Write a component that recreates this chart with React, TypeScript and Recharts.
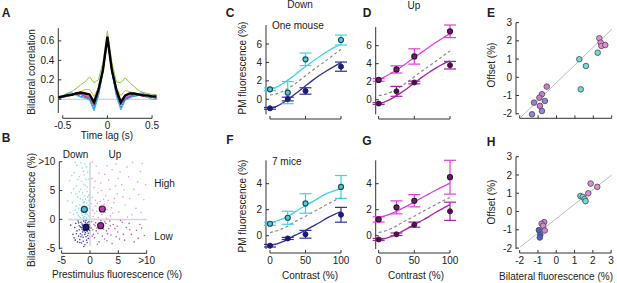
import React from 'react';
import { ComposedChart, Line, Scatter, XAxis, YAxis, ReferenceLine, ErrorBar } from 'recharts';

const W = 617;
const H = 283;
const FONT = '"Liberation Sans", Arial, sans-serif';
const INK = '#222';
const AXIS = '#333';

// ---- A: bilateral correlation vs time lag
const lags = [-0.55, -0.5, -0.45, -0.4, -0.35, -0.3, -0.25, -0.2, -0.15, -0.1, -0.05, 0, 0.05, 0.1, 0.15, 0.2, 0.25, 0.3, 0.35, 0.4, 0.45, 0.5, 0.55];
const corrGreen = [0.03, 0.04, 0.06, 0.08, 0.11, 0.15, 0.18, 0.23, 0.17, 0.2, 0.38, 0.7, 0.38, 0.18, 0.17, 0.22, 0.17, 0.13, 0.09, 0.07, 0.06, 0.05, 0.05];
const corrYellow = [0.02, 0.03, 0.04, 0.05, 0.06, 0.08, 0.1, 0.1, 0.03, 0.12, 0.32, 0.66, 0.32, 0.12, 0.04, 0.09, 0.08, 0.06, 0.05, 0.04, 0.04, 0.04, 0.04];
const corrRed = [0.01, 0.02, 0.03, 0.05, 0.06, 0.05, 0.03, 0.02, -0.07, 0.05, 0.28, 0.62, 0.28, 0.05, -0.06, 0.0, 0.03, 0.04, 0.04, 0.03, 0.02, 0.02, 0.01];
const corrPink = [0.02, 0.03, 0.04, 0.05, 0.07, 0.06, 0.04, 0.03, -0.05, 0.08, 0.3, 0.6, 0.28, 0.07, -0.04, 0.02, 0.04, 0.05, 0.05, 0.04, 0.03, 0.02, 0.02];
const corrBlue = [0.0, 0.02, 0.05, 0.06, 0.05, 0.03, 0.02, 0.0, -0.1, 0.05, 0.3, 0.65, 0.3, 0.05, -0.09, 0.0, 0.02, 0.03, 0.04, 0.06, 0.03, 0.02, 0.01];
const corrSky = [0.01, 0.03, 0.06, 0.07, 0.04, 0.02, 0.01, -0.01, -0.12, 0.03, 0.28, 0.64, 0.28, 0.03, -0.11, -0.01, 0.01, 0.04, 0.06, 0.07, 0.02, 0.0, 0.0];
const corrPurple = [0.02, 0.02, 0.03, 0.04, 0.05, 0.05, 0.03, 0.01, -0.06, 0.06, 0.29, 0.63, 0.29, 0.06, -0.05, 0.01, 0.03, 0.04, 0.04, 0.05, 0.03, 0.02, 0.02];
const corrMean = [0.02, 0.03, 0.04, 0.045, 0.06, 0.07, 0.06, 0.05, -0.03, 0.1, 0.3, 0.64, 0.3, 0.1, -0.03, 0.04, 0.06, 0.06, 0.05, 0.04, 0.04, 0.03, 0.03];

// ---- B: prestimulus vs bilateral fluorescence (x, y pairs)
const dotsDownHigh = [[-1.2, 0.4], [-0.8, 0.9], [-1.5, 1.1], [-0.4, 1.5], [-2.1, 0.7], [-1.0, 2.2], [-0.6, 2.8], [-1.8, 2.5], [-0.3, 0.6], [-2.6, 1.6], [-1.3, 3.4], [-0.9, 4.1], [-2.2, 3.9], [-0.5, 4.8], [-1.6, 5.2], [-3.1, 2.9], [-0.2, 3.3], [-1.1, 6.1], [-2.4, 5.8], [-0.7, 6.9], [-1.9, 7.4], [-0.4, 8.2], [-1.4, 8.9], [-2.8, 8.1], [-0.9, 9.6], [-3.3, 4.6], [-0.1, 1.9], [-1.7, 0.3], [-2.9, 0.9], [-0.6, 0.2], [-1.4, 1.8], [-0.9, 1.4], [-2.0, 1.9], [-1.2, 2.9], [-0.3, 2.4], [-1.7, 3.6], [-0.8, 3.5], [-3.6, 6.7], [-2.3, 9.4], [-1.0, 7.7], [-0.5, 5.6], [-2.5, 4.4], [-1.9, 0.5], [-0.7, 1.1], [-1.3, 4.6], [-3.9, 3.2], [-0.2, 7.0], [-1.6, 9.8],
  [-1.1, 0.1], [-0.5, 0.9], [-1.6, 1.5], [-2.4, 2.3], [-0.2, 4.2], [-1.9, 4.8], [-2.9, 5.3], [-0.8, 5.9], [-1.5, 6.6], [-2.1, 6.9], [-3.2, 7.6], [-1.2, 8.3], [-0.6, 9.1], [-2.6, 9.9], [-3.5, 1.2], [-1.0, 3.0], [-0.4, 3.9], [-1.4, 0.7], [-2.3, 1.2], [-0.9, 0.5]];
const dotsDownLow = [[-1.0, -1.3], [-0.7, -0.8], [-1.4, -1.7], [-0.5, -2.1], [-1.9, -1.1], [-0.9, -2.6], [-1.6, -0.5], [-0.3, -1.2], [-2.3, -2.0], [-1.2, -3.1], [-0.6, -3.6], [-2.0, -2.9], [-1.5, -4.1], [-2.7, -1.4], [-0.2, -0.4], [-1.1, -0.3], [-0.8, -1.7], [-1.3, -2.2], [-0.4, -2.8], [-1.8, -3.5], [-2.5, -0.7], [-3.0, -2.6], [-0.9, -4.4], [-2.2, -3.9], [-0.1, -1.9], [-1.7, -2.5], [-1.0, -0.9], [-0.6, -1.4], [-1.3, -1.0], [-2.1, -0.3], [-0.4, -0.6], [-1.5, -1.4], [-0.8, -2.3], [-1.9, -1.8], [-2.8, -3.2], [-1.2, -3.8], [-0.3, -3.3], [-3.4, -1.0], [-1.6, -3.0], [-0.7, -0.2],
  [-0.9, -1.6], [-1.1, -1.1], [-0.6, -1.0], [-1.4, -0.8], [-0.5, -1.7], [-1.2, -1.9], [-0.8, -0.5], [-1.7, -1.3], [-0.3, -2.4], [-2.4, -2.5], [-1.0, -2.0], [-0.7, -3.0], [-1.4, -2.7], [-2.0, -0.6], [-0.2, -0.9], [-1.8, -4.0], [-2.6, -3.6], [-0.5, -4.0], [-1.1, -4.7], [0.2, -1.5]];
const dotsUpHigh = [[0.6, 0.5], [1.2, 1.4], [2.1, 0.8], [0.9, 2.3], [1.8, 3.1], [3.0, 1.7], [2.5, 2.6], [0.4, 3.8], [3.6, 0.6], [1.4, 4.6], [4.2, 2.9], [2.8, 4.1], [0.7, 5.5], [5.1, 1.3], [3.5, 5.2], [1.9, 6.3], [4.8, 4.4], [6.2, 2.5], [0.3, 7.1], [2.6, 7.8], [5.6, 6.0], [7.0, 3.6], [3.9, 8.6], [6.8, 7.4], [8.1, 1.9], [1.1, 9.2], [4.6, 9.6], [7.7, 5.2], [8.9, 8.3], [9.5, 3.4], [2.2, 1.9], [1.5, 0.3], [3.2, 3.3], [0.5, 1.6], [2.9, 0.2], [4.0, 1.1], [1.3, 2.8], [5.8, 3.9], [9.2, 9.7], [6.5, 9.1], [8.4, 6.5], [3.3, 6.8], [1.6, 8.0], [5.3, 8.2], [7.4, 0.8],
  [0.8, 1.0], [1.7, 2.2], [2.4, 3.5], [0.2, 2.7], [3.8, 2.0], [4.5, 5.8], [6.0, 5.1], [2.0, 5.0], [0.9, 6.6], [7.5, 9.9], [9.8, 6.0], [8.6, 4.3], [5.0, 7.1], [3.0, 9.3], [0.4, 9.9], [6.6, 0.4], [9.0, 1.2], [4.3, 3.6], [2.7, 1.2], [1.0, 3.3]];
const dotsUpLow = [[1.0, -0.6], [1.8, -1.3], [2.6, -0.4], [0.5, -1.8], [3.3, -1.6], [1.4, -2.4], [2.2, -2.9], [4.1, -0.9], [0.8, -3.2], [3.0, -3.7], [4.9, -2.2], [5.7, -0.5], [2.0, -0.9], [1.2, -1.5], [3.7, -2.7], [6.4, -1.4], [0.3, -0.4], [2.9, -2.0], [5.2, -3.4], [7.3, -2.6], [1.6, -3.9], [4.4, -1.6], [6.9, -0.7], [8.2, -1.9], [3.5, -0.3], [0.6, -2.6], [2.4, -1.7], [1.9, -0.2], [4.6, -3.0], [8.8, -0.9], [9.6, -2.8], [7.8, -3.9], [5.9, -2.6], [3.9, -4.2], [0.9, -1.1],
  [1.5, -0.8], [2.3, -1.2], [0.7, -0.9], [1.1, -2.0], [2.8, -0.7], [3.1, -2.5], [0.4, -2.9], [4.8, -1.2], [6.1, -3.6], [7.0, -1.8], [9.1, -1.5], [5.4, -0.2], [2.6, -3.4], [1.3, -4.3], [3.6, -1.1], [8.5, -3.3]];
const meanDownHigh = [[-1.0, 1.75]];
const meanDownLow = [[-0.7, -1.37]];
const meanUpHigh = [[2.17, 1.8]];
const meanUpLow = [[1.88, -1.09]];

// ---- C/D/F/G: PM fluorescence vs contrast
const contrasts = [0, 25, 50, 100];
const fitContrasts = [0, 10, 20, 30, 40, 50, 60, 70, 80, 90, 100];

const oneDownHigh = [1.08, 0.72, 4.34, 6.43];
const oneDownHighErr = [0.15, 1.2, 0.68, 0.54];
const oneDownLow = [-0.98, 0.03, 0.9, 3.54];
const oneDownLowErr = [0.1, 0.2, 0.35, 0.5];
const oneUpHigh = [2.2, 3.36, 4.8, 7.59];
const oneUpHighErr = [0.15, 0.4, 0.85, 0.7];
const oneUpLow = [-0.43, 0.93, 1.91, 3.83];
const oneUpLowErr = [0.1, 0.55, 0.15, 0.42];

const oneDownHighFit = [1.15, 1.35, 1.8, 2.35, 2.95, 3.55, 4.1, 4.65, 5.15, 5.6, 5.97];
const oneDownLowFit = [-0.98, -0.75, -0.3, 0.25, 0.85, 1.45, 2.05, 2.6, 3.1, 3.55, 3.97];
const oneMidFit = [0.47, 0.62, 0.95, 1.4, 1.95, 2.55, 3.15, 3.7, 4.25, 4.85, 5.42];
const oneUpHighFit = [2.2, 2.6, 3.05, 3.55, 4.1, 4.7, 5.25, 5.8, 6.35, 6.85, 7.33];
const oneUpLowFit = [-0.45, -0.2, 0.2, 0.7, 1.25, 1.85, 2.45, 3.0, 3.5, 3.95, 4.3];

const allDownHigh = [0.92, 1.38, 2.48, 3.75];
const allDownHighErr = [0.12, 0.5, 0.75, 0.88];
const allDownLow = [-0.77, -0.21, 0.11, 1.61];
const allDownLowErr = [0.1, 0.08, 0.3, 0.57];
const allUpHigh = [1.25, 2.18, 2.69, 4.5];
const allUpHighErr = [0.2, 0.5, 0.47, 1.3];
const allUpLow = [-0.29, 0.11, 0.85, 1.88];
const allUpLowErr = [0.08, 0.1, 0.2, 0.7];

const allDownHighFit = [0.97, 1.15, 1.35, 1.65, 2.0, 2.31, 2.62, 2.95, 3.25, 3.45, 3.62];
const allDownLowFit = [-0.75, -0.62, -0.42, -0.12, 0.15, 0.42, 0.72, 1.02, 1.35, 1.62, 1.86];
const allMidFit = [0.24, 0.38, 0.6, 0.92, 1.22, 1.5, 1.8, 2.1, 2.4, 2.68, 2.94];
const allUpHighFit = [1.42, 1.55, 1.75, 2.02, 2.3, 2.6, 2.9, 3.2, 3.5, 3.78, 4.05];
const allUpLowFit = [-0.3, -0.2, -0.02, 0.25, 0.55, 0.85, 1.15, 1.45, 1.8, 2.1, 2.39];

// ---- E/H: offset vs bilateral fluorescence (x, y pairs)
const eUpHigh = [[2.33, 2.14], [2.4, 1.9], [2.44, 1.72], [2.65, 1.77]];
const eDownHigh = [[1.24, 0.99], [1.6, 0.62], [1.32, -0.66], [2.24, 1.35]];
const eUpLow = [[-0.53, -0.51], [-0.79, -0.93], [-0.93, -1.12], [-0.9, -1.57]];
const eDownLow = [[-0.63, -1.3], [-1.22, -1.39], [-0.79, -1.85], [-1.33, -2.03]];
const eDiag = [[-1.95, -2.2], [3.0, 2.63]];

const hUpHigh = [[1.88, 1.53], [2.24, 1.35], [1.75, 1.0]];
const hDownHigh = [[1.32, 0.85], [1.45, 0.8], [1.55, 0.68], [1.6, 0.57]];
const hUpLow = [[-0.66, -0.58], [-0.8, -0.67], [-0.72, -0.78], [-0.63, -1.04]];
const hDownLow = [[-0.95, -1.02], [-0.87, -1.27], [-0.9, -1.42]];
const hDiag = [[-1.98, -1.95], [3.03, 2.0]];

const CYAN = '#3fd0ee';
const NAVY = '#2e2e9e';
const MAGENTA = '#e23ce0';
const PURPLE = '#a424a8';

const series = (xs: number[], ys: number[]) => xs.map((x, i) => ({ x, y: ys[i] }));
const withErr = (xs: number[], ys: number[], es: number[]) => xs.map((x, i) => ({ x, y: ys[i], e: es[i] }));
const pairs = (ps: number[][]) => ps.map(([x, y]) => ({ x, y }));

const dot = (r: number, fill: string, stroke: string, sw = 1) => (p: any) =>
  <circle cx={p.cx} cy={p.cy} r={r} fill={fill} stroke={stroke} strokeWidth={sw} />;

type Box = { l: number; t: number; r: number; b: number };

function Panel(props: {
  box: Box; xDomain: [number, number]; yDomain: [number, number];
  xTicks: number[]; yTicks: number[]; xSpan: [number, number]; ySpan: [number, number];
  fmtX?: (v: number) => string; fmtY?: (v: number) => string; children: React.ReactNode;
}) {
  const { box, xDomain, yDomain, xTicks, yTicks, xSpan, ySpan } = props;
  const tickStyle = { fill: INK, fontSize: 10, fontFamily: FONT };
  // axes are 1px thick boxes so the plot area lands exactly on box
  return (
    <div style={{ position: 'absolute', left: 0, top: 0 }}>
      <ComposedChart width={W} height={H} margin={{ left: box.l - 1, top: box.t, right: W - box.r, bottom: H - box.b - 1 }}>
        <XAxis type="number" dataKey="x" domain={xDomain} ticks={xTicks} interval={0} height={1}
          axisLine={false} tickLine={{ stroke: AXIS }} tickSize={-3} tickMargin={7}
          tick={tickStyle} tickFormatter={props.fmtX ?? ((v: number) => String(v))} />
        <YAxis type="number" dataKey="y" domain={yDomain} ticks={yTicks} interval={0} width={1}
          axisLine={false} tickLine={{ stroke: AXIS }} tickSize={-3} tickMargin={7}
          tick={tickStyle} tickFormatter={props.fmtY ?? ((v: number) => String(v))} />
        <ReferenceLine ifOverflow="visible" stroke={AXIS} segment={[{ x: xSpan[0], y: yDomain[0] }, { x: xSpan[1], y: yDomain[0] }]} />
        <ReferenceLine ifOverflow="visible" stroke={AXIS} segment={[{ x: xDomain[0], y: ySpan[0] }, { x: xDomain[0], y: ySpan[1] }]} />
        {props.children}
      </ComposedChart>
    </div>
  );
}

function Txt({ x, y, children, size = 10, bold = false, rotate = false, start = false }: any) {
  return (
    <div style={{
      position: 'absolute', left: x, top: y, fontFamily: FONT, fontSize: size, lineHeight: 1,
      fontWeight: bold ? 700 : 400, color: INK, whiteSpace: 'nowrap',
      transform: `translate(${start ? '0' : '-50%'}, -50%)${rotate ? ' rotate(-90deg)' : ''}`,
    }}>{children}</div>
  );
}

const hide = () => '';

function contrastPanel(box: Box, yDomain: [number, number], ySpan: [number, number], yTicks: number[], x0: number, labels: boolean,
  high: any[], low: any[], highFit: any[], lowFit: any[], midFit: any[], hiColor: string, loColor: string,
  hiFill: string, hiStroke: string, loFill: string) {
  return (
    <Panel box={box} xDomain={[x0, 100]} yDomain={yDomain} xTicks={[0, 50, 100]} yTicks={yTicks}
      xSpan={[0, 100]} ySpan={ySpan} fmtX={labels ? undefined : hide}>
      <Line data={midFit} dataKey="y" type="monotone" dot={false} stroke="#8a8a8a" strokeWidth={1.2} strokeDasharray="3 2.5" isAnimationActive={false} />
      <Line data={highFit} dataKey="y" type="monotone" dot={false} stroke={hiColor} strokeWidth={1.3} isAnimationActive={false} />
      <Line data={lowFit} dataKey="y" type="monotone" dot={false} stroke={loColor} strokeWidth={1.3} isAnimationActive={false} />
      <Scatter data={high} shape={dot(2.5, hiFill, hiStroke, 1.2)} isAnimationActive={false}>
        <ErrorBar dataKey="e" direction="y" width={6} stroke={hiColor} strokeWidth={1.2} />
      </Scatter>
      <Scatter data={low} shape={dot(2.5, loFill, loFill, 1)} isAnimationActive={false}>
        <ErrorBar dataKey="e" direction="y" width={6} stroke={loColor} strokeWidth={1.2} />
      </Scatter>
    </Panel>
  );
}

export default function App() {
  const corr: [number[], string, number][] = [
    [corrGreen, '#8cc63f', 1], [corrYellow, '#f2b52a', 1], [corrRed, '#e0483c', 1], [corrPink, '#e04aa8', 1],
    [corrPurple, '#8e4cb0', 1], [corrBlue, '#2a6fd6', 1], [corrSky, '#3bb8f0', 1], [corrMean, '#000000', 2.4],
  ];
  const scDot = (c: string) => dot(0.8, c, 'none', 0);
  const bigE = (c: string) => dot(2.8, c, '#4a4a4a', 0.8);
  return (
    <div style={{ position: 'absolute', left: 0, top: 0, width: W, height: H, background: '#fff', overflow: 'hidden' }}>
      {/* A */}
      <Panel box={{ l: 58.3, t: 28.2, r: 158.3, b: 118.3 }} xDomain={[-0.55, 0.57]} yDomain={[-0.195, 0.73]}
        xTicks={[-0.5, 0, 0.5]} yTicks={[0, 0.2, 0.4, 0.6]} xSpan={[-0.5, 0.5]} ySpan={[-0.14, 0.73]}>
        <ReferenceLine ifOverflow="visible" stroke="#c8c8c8" segment={[{ x: -0.55, y: 0 }, { x: 0.57, y: 0 }]} />
        {corr.map(([arr, c, w], i) => (
          <Line key={i} data={series(lags, arr)} dataKey="y" dot={false} stroke={c} strokeWidth={w} isAnimationActive={false} />
        ))}
      </Panel>

      {/* B */}
      <Panel box={{ l: 59.3, t: 161.7, r: 146.7, b: 253.3 }} xDomain={[-5.41, 10]} yDomain={[-5.88, 10]}
        xTicks={[-5, 0, 5, 10]} yTicks={[-5, 0, 5, 10]} xSpan={[-5, 10]} ySpan={[-5.2, 10]}
        fmtX={(v) => (v === 10 ? '>10' : String(v))} fmtY={(v) => (v === 10 ? '>10' : String(v))}>
        <ReferenceLine ifOverflow="visible" stroke="#d4d4d4" strokeWidth={1.5} segment={[{ x: 0, y: -4.6 }, { x: 0, y: 10 }]} />
        <ReferenceLine ifOverflow="visible" stroke="#d4d4d4" strokeWidth={1.5} segment={[{ x: -3.8, y: 0 }, { x: 10, y: 0 }]} />
        <Scatter data={pairs(dotsUpHigh)} shape={scDot('#ec96e8')} isAnimationActive={false} />
        <Scatter data={pairs(dotsUpLow)} shape={scDot('#b95cba')} isAnimationActive={false} />
        <Scatter data={pairs(dotsDownHigh)} shape={scDot('#86dcef')} isAnimationActive={false} />
        <Scatter data={pairs(dotsDownLow)} shape={scDot('#4444b0')} isAnimationActive={false} />
        <Scatter data={pairs(meanDownHigh)} shape={dot(3, '#45c3d6', '#1c3c48', 1.2)} isAnimationActive={false} />
        <Scatter data={pairs(meanDownLow)} shape={dot(3, '#1e1e6e', '#10103a', 1.2)} isAnimationActive={false} />
        <Scatter data={pairs(meanUpHigh)} shape={dot(3, '#c23cb8', '#3a1038', 1.2)} isAnimationActive={false} />
        <Scatter data={pairs(meanUpLow)} shape={dot(3, '#9a3090', '#3a1038', 1.2)} isAnimationActive={false} />
      </Panel>

      {/* C, D */}
      {contrastPanel({ l: 266, t: 25, r: 341, b: 119 }, [-2.14, 8.06], [-1.63, 8.06], [0, 2, 4, 6], -5.63, false,
        withErr(contrasts, oneDownHigh, oneDownHighErr), withErr(contrasts, oneDownLow, oneDownLowErr),
        series(fitContrasts, oneDownHighFit), series(fitContrasts, oneDownLowFit), series(fitContrasts, oneMidFit),
        CYAN, NAVY, '#5ec8d8', '#17505c', '#1c1c6a')}
      {contrastPanel({ l: 375.7, t: 25, r: 450, b: 119 }, [-2.14, 8.06], [-1.63, 8.06], [0, 2, 4, 6], -4.1, false,
        withErr(contrasts, oneUpHigh, oneUpHighErr), withErr(contrasts, oneUpLow, oneUpLowErr),
        series(fitContrasts, oneUpHighFit), series(fitContrasts, oneUpLowFit), series(fitContrasts, oneMidFit),
        MAGENTA, PURPLE, '#6a1f6a', '#3a0a3a', '#4a1048')}

      {/* F, G */}
      {contrastPanel({ l: 266, t: 159, r: 341, b: 253 }, [-1.33, 5.9], [-1.02, 5.8], [0, 2, 4], -5.63, true,
        withErr(contrasts, allDownHigh, allDownHighErr), withErr(contrasts, allDownLow, allDownLowErr),
        series(fitContrasts, allDownHighFit), series(fitContrasts, allDownLowFit), series(fitContrasts, allMidFit),
        CYAN, NAVY, '#5ec8d8', '#17505c', '#1c1c6a')}
      {contrastPanel({ l: 375.7, t: 159, r: 450, b: 253 }, [-1.33, 5.9], [-1.02, 5.8], [0, 2, 4], -4.1, true,
        withErr(contrasts, allUpHigh, allUpHighErr), withErr(contrasts, allUpLow, allUpLowErr),
        series(fitContrasts, allUpHighFit), series(fitContrasts, allUpLowFit), series(fitContrasts, allMidFit),
        MAGENTA, PURPLE, '#6a1f6a', '#3a0a3a', '#4a1048')}

      {/* E */}
      <Panel box={{ l: 516, t: 21.7, r: 611.7, b: 118.3 }} xDomain={[-2.2, 3.0]} yDomain={[-2.25, 3.05]}
        xTicks={[-2, -1, 0, 1, 2, 3]} yTicks={[-2, -1, 0, 1, 2, 3]} xSpan={[-2, 3]} ySpan={[-2.05, 3.0]} fmtX={hide}>
        <Line data={pairs(eDiag)} dataKey="y" dot={false} stroke="#bdbdbd" strokeWidth={1} isAnimationActive={false} />
        <Scatter data={pairs(eDownLow)} shape={bigE('#8d85e0')} isAnimationActive={false} />
        <Scatter data={pairs(eUpLow)} shape={bigE('#c87ccb')} isAnimationActive={false} />
        <Scatter data={pairs(eDownHigh)} shape={bigE('#6fd8d8')} isAnimationActive={false} />
        <Scatter data={pairs(eUpHigh)} shape={bigE('#e68bd9')} isAnimationActive={false} />
      </Panel>

      {/* H */}
      <Panel box={{ l: 516, t: 156.7, r: 611.7, b: 253 }} xDomain={[-2.2, 3.03]} yDomain={[-2.27, 3.0]}
        xTicks={[-2, -1, 0, 1, 2, 3]} yTicks={[-2, -1, 0, 1, 2, 3]} xSpan={[-2, 3]} ySpan={[-2.05, 3.0]}>
        <Line data={pairs(hDiag)} dataKey="y" dot={false} stroke="#bdbdbd" strokeWidth={1} isAnimationActive={false} />
        <Scatter data={pairs(hDownLow)} shape={bigE('#4f5bc4')} isAnimationActive={false} />
        <Scatter data={pairs(hUpLow)} shape={bigE('#cf86cf')} isAnimationActive={false} />
        <Scatter data={pairs(hDownHigh)} shape={bigE('#6fd8d8')} isAnimationActive={false} />
        <Scatter data={pairs(hUpHigh)} shape={bigE('#e08ad8')} isAnimationActive={false} />
      </Panel>

      {/* letters and titles */}
      <Txt x={6} y={13} size={12} bold>A</Txt>
      <Txt x={6} y={138} size={12} bold>B</Txt>
      <Txt x={230} y={12.5} size={12} bold>C</Txt>
      <Txt x={367} y={12.5} size={12} bold>D</Txt>
      <Txt x={491} y={12.5} size={12} bold>E</Txt>
      <Txt x={230} y={140} size={12} bold>F</Txt>
      <Txt x={367} y={141} size={12} bold>G</Txt>
      <Txt x={491} y={142} size={12} bold>H</Txt>

      <Txt x={300} y={5}>Down</Txt>
      <Txt x={414} y={6}>Up</Txt>
      <Txt x={272} y={25.5} start>One mouse</Txt>
      <Txt x={272} y={162} start>7 mice</Txt>

      <Txt x={75.5} y={155}>Down</Txt>
      <Txt x={115} y={155}>Up</Txt>
      <Txt x={164.5} y={184}>High</Txt>
      <Txt x={163.5} y={237}>Low</Txt>

      <Txt x={32} y={72} rotate>Bilateral correlation</Txt>
      <Txt x={107} y={136}>Time lag (s)</Txt>
      <Txt x={31.7} y={210} rotate>Bilateral fluorescence (%)</Txt>
      <Txt x={117} y={275}>Prestimulus fluorescence (%)</Txt>
      <Txt x={243.3} y={67.5} rotate>PM fluorescence (%)</Txt>
      <Txt x={243.3} y={206} rotate>PM fluorescence (%)</Txt>
      <Txt x={310} y={276}>Contrast (%)</Txt>
      <Txt x={416} y={276}>Contrast (%)</Txt>
      <Txt x={491.7} y={65} rotate>Offset (%)</Txt>
      <Txt x={491.7} y={202} rotate>Offset (%)</Txt>
      <Txt x={556} y={276.7}>Bilateral fluorescence (%)</Txt>
    </div>
  );
}
